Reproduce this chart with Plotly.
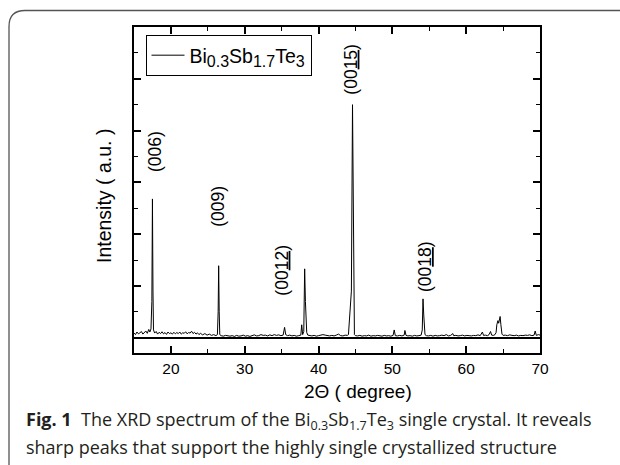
import plotly.graph_objects as go

# ---- data: XRD pattern of Bi0.3Sb1.7Te3 (2theta in degree, intensity in a.u.) ----
two_theta = [
    15.0, 15.2, 15.4, 15.6, 15.8, 16.0, 16.2, 16.4, 16.6, 16.8, 17.0, 17.15, 17.3, 17.42, 17.5, 17.57, 17.64,
    17.8, 18.0, 18.2, 18.4, 18.6, 18.8, 19.0, 19.2, 19.4, 19.6, 19.8, 20.0, 20.2, 20.4, 20.6, 20.8,
    21.0, 21.2, 21.4, 21.6, 21.8, 22.0, 22.2, 22.4, 22.6, 22.8, 23.0, 23.2, 23.4, 23.6, 23.8, 24.0,
    24.3, 24.6, 24.9, 25.2, 25.5, 25.8, 26.1, 26.3, 26.4, 26.47, 26.54, 26.62, 26.8, 27.1, 27.4, 27.7,
    28.0, 28.3, 28.6, 28.9, 29.2, 29.5, 29.8, 30.1, 30.4, 30.7, 31.0, 31.3, 31.6, 31.9, 32.2, 32.5,
    32.8, 33.1, 33.4, 33.7, 34.0, 34.3, 34.6, 34.9, 35.2, 35.4, 35.55, 35.8, 36.1, 36.4, 36.7, 37.0,
    37.3, 37.6, 37.72, 37.85, 38.0, 38.12, 38.22, 38.3, 38.4, 38.55, 38.8, 39.1, 39.4, 39.7, 40.0,
    40.3, 40.6, 40.9, 41.2, 41.5, 41.8, 42.1, 42.4, 42.7, 43.0, 43.3, 43.6, 43.9, 44.05, 44.2, 44.3,
    44.45, 44.6, 44.7, 44.78, 44.86, 45.0, 45.3, 45.6, 45.9, 46.2, 46.5, 46.8, 47.1, 47.4, 47.7, 48.0,
    48.3, 48.6, 48.9, 49.2, 49.5, 49.8, 50.1, 50.25, 50.4, 50.7, 51.0, 51.3, 51.6, 51.7, 51.85, 52.1,
    52.4, 52.7, 53.0, 53.3, 53.6, 53.9, 54.05, 54.15, 54.25, 54.32, 54.42, 54.6, 54.9, 55.2, 55.5,
    55.8, 56.1, 56.4, 56.7, 57.0, 57.3, 57.6, 57.9, 58.2, 58.3, 58.6, 58.9, 59.2, 59.5, 59.8, 60.1,
    60.4, 60.7, 61.0, 61.3, 61.6, 61.9, 62.2, 62.35, 62.6, 62.9, 63.1, 63.3, 63.45, 63.7, 63.9, 64.05,
    64.15, 64.3, 64.4, 64.5, 64.6, 64.7, 64.85, 65.0, 65.3, 65.6, 65.9, 66.2, 66.5, 66.8, 67.1, 67.4,
    67.7, 68.0, 68.3, 68.6, 68.9, 69.2, 69.35, 69.5, 69.8, 70.0,
]
intensity = [
    90, 60, 110, 75, 95, 120, 70, 100, 130, 85, 160, 110, 170, 700, 2680, 900, 150,
    90, 120, 70, 105, 80, 115, 75, 100, 65, 110, 80, 95, 70, 105, 75, 100,
    80, 110, 70, 95, 85, 115, 75, 100, 90, 125, 80, 105, 70, 95, 60, 85,
    55, 80, 50, 70, 45, 60, 40, 60, 500, 1390, 500, 60, 40, 30, 45, 35,
    30, 40, 25, 45, 30, 35, 50, 30, 40, 25, 45, 55, 35, 40, 60, 45,
    50, 35, 55, 40, 60, 45, 55, 40, 50, 200, 60, 40, 50, 35, 45, 30,
    40, 50, 250, 60, 120, 1330, 700, 330, 100, 50, 40, 35, 45, 30, 40,
    55, 60, 50, 40, 35, 45, 35, 50, 70, 40, 35, 50, 45, 60, 400, 770,
    900, 4500, 2000, 300, 60, 40, 35, 45, 30, 40, 35, 50, 30, 40, 35, 45,
    40, 30, 45, 35, 40, 30, 45, 150, 40, 35, 45, 35, 50, 140, 45, 35,
    40, 30, 45, 35, 40, 50, 150, 750, 440, 300, 60, 40, 35, 45, 30,
    45, 35, 40, 50, 40, 60, 35, 45, 80, 40, 45, 35, 40, 50, 35, 45,
    40, 35, 45, 40, 55, 40, 110, 45, 50, 40, 60, 120, 50, 45, 60, 100,
    250, 330, 280, 370, 410, 250, 70, 45, 50, 40, 55, 45, 40, 50, 35, 45,
    40, 50, 45, 55, 40, 50, 130, 45, 60, 50,
]

# peak labels (Miller indices), the 2theta of their text and the intensity level of the text centre
peak_labels = ["(006)", "(009)", "(00<u>12</u>)", "(00<u>15</u>)", "(00<u>18</u>)"]
peak_label_x = [17.84, 26.42, 35.0, 44.35, 54.42]
peak_label_y = [3605, 2534, 1308, 5189, 1385]

x_ticks = [20, 30, 40, 50, 60, 70]

SUB = "<sub><span style='font-size:16px'>{}</span></sub>"
series_name = "Bi" + SUB.format("0.3") + "Sb" + SUB.format("1.7") + "Te" + SUB.format("3")

# ---- layout geometry (pixels) ----
W, H = 620, 465
L, R, T, B = 134, 80, 27, 112
PW, PH = W - L - R, H - T - B


def px(xp):
    return (xp - L) / PW


def py(yp):
    return 1 - (yp - T) / PH


FONT = "Liberation Sans, Arial, sans-serif"

fig = go.Figure()
fig.add_trace(go.Scatter(
    x=two_theta, y=intensity, mode="lines", name=series_name,
    line=dict(color="black", width=1), showlegend=True,
))

annotations = []
for lab, lx, ly in zip(peak_labels, peak_label_x, peak_label_y):
    annotations.append(dict(
        x=lx, y=ly, xref="x", yref="y", text=lab, textangle=-90, showarrow=False,
        xanchor="center", yanchor="middle", font=dict(family=FONT, size=17.5, color="black"),
    ))

# axis titles
annotations.append(dict(
    x=px(104), y=py(196), xref="paper", yref="paper", text="Intensity ( a.u. )", textangle=-90,
    showarrow=False, xanchor="center", yanchor="middle", font=dict(family=FONT, size=19.5, color="black"),
))
annotations.append(dict(
    x=px(358), y=py(391), xref="paper", yref="paper", text="2\u0398 ( degree)",
    showarrow=False, xanchor="center", yanchor="middle", font=dict(family=FONT, size=19, color="black"),
))

# caption
CAP_FONT = "Open Sans, Noto Sans, sans-serif"
annotations.append(dict(
    x=px(24), y=py(420), xref="paper", yref="paper",
    text="<b>Fig. 1</b>  The XRD spectrum of the Bi<sub>0.3</sub>Sb<sub>1.7</sub>Te<sub>3</sub> single crystal. It reveals",
    showarrow=False, xanchor="left", yanchor="middle", align="left",
    font=dict(family=CAP_FONT, size=18, color="#231f20"),
))
annotations.append(dict(
    x=px(24), y=py(447), xref="paper", yref="paper",
    text="sharp peaks that support the highly single crystallized structure",
    showarrow=False, xanchor="left", yanchor="middle", align="left",
    font=dict(family=CAP_FONT, size=18, color="#231f20"),
))

# rounded frame around the figure panel (top-left corner visible)
r = 16
frame_path = (
    f"M {px(9)},{py(475)} L {px(9)},{py(10.5 + r)} "
    f"Q {px(9)},{py(10.5)} {px(9 + r)},{py(10.5)} L {px(640)},{py(10.5)}"
)
shapes = [dict(type="path", path=frame_path, xref="paper", yref="paper",
               line=dict(color="#555555", width=1.3), layer="above")]

fig.update_layout(
    width=W, height=H,
    margin=dict(l=L, r=R, t=T, b=B, pad=0),
    paper_bgcolor="white", plot_bgcolor="white",
    font=dict(family=FONT, color="black"),
    showlegend=True,
    legend=dict(
        x=px(145.5), y=py(35), xanchor="left", yanchor="top",
        bgcolor="white", bordercolor="black", borderwidth=1,
        font=dict(family=FONT, size=19.5, color="black"),
        itemwidth=33,
    ),
    annotations=annotations,
    shapes=shapes,
)
fig.update_xaxes(
    range=[15, 70], tickmode="array", tickvals=x_ticks, ticktext=[str(v) for v in x_ticks],
    ticks="inside", ticklen=7, tickwidth=1.5, tickcolor="black",
    showline=True, linewidth=1.8, linecolor="black", mirror="allticks",
    showgrid=False, zeroline=False,
    tickfont=dict(family=FONT, size=15.5, color="black"),
    minor=dict(dtick=5, tick0=0, ticks="inside", ticklen=4, tickwidth=1.2, tickcolor="black", showgrid=False),
)
fig.update_yaxes(
    range=[-295, 6000], dtick=1000, tick0=0, showticklabels=False,
    ticks="inside", ticklen=7, tickwidth=1.5, tickcolor="black",
    showline=True, linewidth=1.8, linecolor="black", mirror="allticks",
    showgrid=False, zeroline=True, zerolinecolor="black", zerolinewidth=2,
    minor=dict(dtick=500, tick0=0, ticks="inside", ticklen=4, tickwidth=1.2, tickcolor="black", showgrid=False),
)

fig.write_html("out.html", config={"displayModeBar": False},
               post_script="document.body.style.margin='0';")
